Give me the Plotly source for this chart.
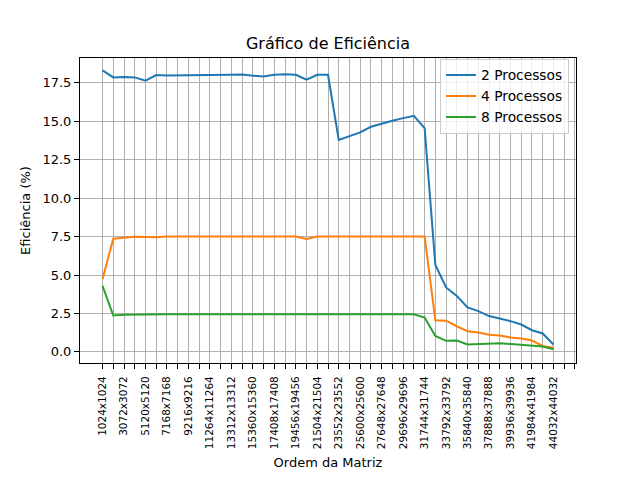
import plotly.graph_objects as go

orders = [1024 * (i + 1) for i in range(43)]
categories = [f"{n}x{n}" for n in orders]

eff_2 = [18.31, 17.85, 17.87, 17.85, 17.64, 18.0, 17.98, 17.98, 18.0, 18.0,
         18.0, 18.02, 18.02, 18.03, 17.95, 17.9, 18.02, 18.05, 18.02, 17.7,
         18.02, 18.02, 13.79, 14.03, 14.27, 14.64, 14.86, 15.03, 15.2, 15.35,
         14.55, 5.65, 4.19, 3.63, 2.89, 2.65, 2.33, 2.17, 2.0, 1.78,
         1.41, 1.2, 0.48]
eff_4 = [4.74, 7.36, 7.43, 7.49, 7.47, 7.45, 7.5, 7.5, 7.5, 7.5,
         7.5, 7.51, 7.5, 7.5, 7.5, 7.5, 7.5, 7.5, 7.5, 7.34,
         7.5, 7.5, 7.5, 7.51, 7.53, 7.51, 7.5, 7.5, 7.5, 7.5,
         7.5, 2.06, 2.03, 1.67, 1.35, 1.26, 1.11, 1.07, 0.94, 0.87,
         0.74, 0.39, 0.28]
eff_8 = [4.3, 2.37, 2.42, 2.44, 2.45, 2.45, 2.45, 2.45, 2.45, 2.45,
         2.45, 2.45, 2.45, 2.45, 2.45, 2.45, 2.45, 2.45, 2.45, 2.45,
         2.45, 2.45, 2.45, 2.45, 2.45, 2.45, 2.45, 2.45, 2.45, 2.45,
         2.24, 1.04, 0.72, 0.74, 0.48, 0.52, 0.57, 0.57, 0.52, 0.46,
         0.39, 0.35, 0.18]

series = [("2 Processos", eff_2, "#1f77b4"),
          ("4 Processos", eff_4, "#ff7f0e"),
          ("8 Processos", eff_8, "#2ca02c")]

idx = list(range(len(categories)))
n_ticks = len(categories) + 2
tick_vals = list(range(n_ticks))
tick_text = [categories[i] if (i < len(categories) and i % 2 == 0) else "" for i in tick_vals]

fig = go.Figure()
for name, vals, color in series:
    fig.add_trace(go.Scatter(x=idx, y=vals, mode="lines", name=name,
                             line=dict(color=color, width=2)))

font = "DejaVu Sans, sans-serif"
fig.update_layout(
    width=640, height=480,
    margin=dict(l=80, r=64, t=58, b=117, autoexpand=False),
    paper_bgcolor="white", plot_bgcolor="white",
    font=dict(family=font, color="black", size=13),
    title=dict(text="Gráfico de Eficiência", x=0.5, xref="paper", xanchor="center",
               y=1 - 43 / 480, yanchor="middle", font=dict(size=16)),
    legend=dict(x=0.986, xanchor="right", y=0.998, yanchor="top",
                bgcolor="rgba(255,255,255,0.8)", bordercolor="#cccccc", borderwidth=1,
                font=dict(size=13.8), tracegroupgap=0, itemwidth=30),
    showlegend=True,
)
fig.update_xaxes(
    range=[-2.1, 44.1], tickmode="array", tickvals=tick_vals, ticktext=tick_text,
    tickangle=-90, tickfont=dict(size=10.5), ticklabelstandoff=3,
    showgrid=True, gridcolor="#b0b0b0", gridwidth=0.8,
    ticks="outside", ticklen=5, tickcolor="black", tickwidth=1,
    showline=True, linecolor="black", linewidth=1, mirror=True, zeroline=False,
    title=dict(text="Ordem da Matriz", font=dict(size=13), standoff=9),
    automargin=False,
)
fig.update_yaxes(
    range=[-0.72, 19.11], tickmode="linear", tick0=0, dtick=2.5, tickformat=".1f",
    showgrid=True, gridcolor="#b0b0b0", gridwidth=0.8,
    ticks="outside", ticklen=5, tickcolor="black", tickwidth=1,
    showline=True, linecolor="black", linewidth=1, mirror=True, zeroline=False,
    title=dict(text="Eficiência (%)", font=dict(size=13), standoff=8),
    automargin=False,
)
fig.write_html("out.html", config={"displayModeBar": False},
               post_script="document.body.style.margin='0px';")
